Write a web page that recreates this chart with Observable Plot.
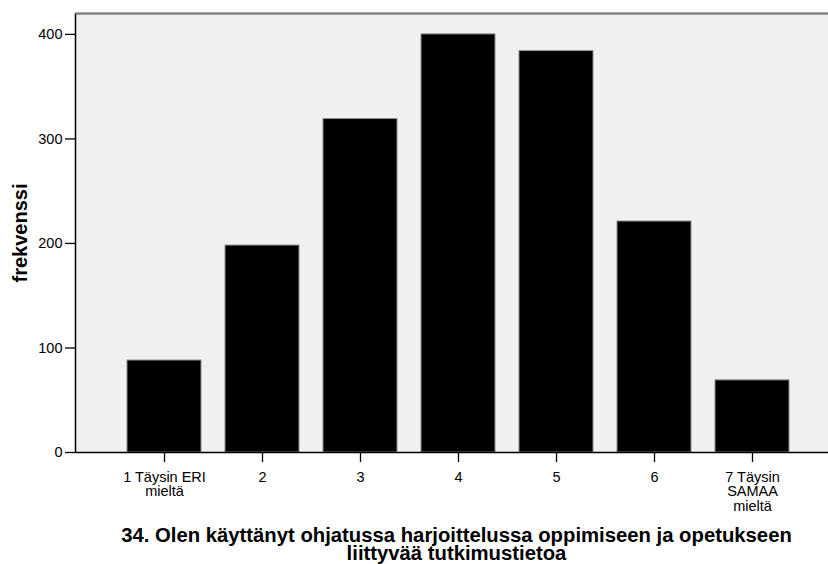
<!DOCTYPE html>
<html>
<head>
<meta charset="utf-8">
<script src="https://cdn.jsdelivr.net/npm/d3@7"></script>
<script src="https://cdn.jsdelivr.net/npm/@observablehq/plot@0.6"></script>
<style>
  html, body { margin: 0; padding: 0; background: #fff; overflow: hidden; }
  #chart svg { overflow: hidden; display: block; }
</style>
</head>
<body>
<div id="chart"></div>
<script>
const categories = ["1 Täysin ERI\nmieltä", "2", "3", "4", "5", "6", "7 Täysin\nSAMAA\nmieltä"];
const frequencies = [88, 198, 319, 400, 384, 221, 69];
const yTicks = [0, 100, 200, 300, 400];
const yMax = 420;
const yLabel = "frekvenssi";
const title = "34. Olen käyttänyt ohjatussa harjoittelussa oppimiseen ja opetukseen\nliittyvää tutkimustietoa";

const data = categories.map((c, i) => ({category: c, value: frequencies[i]}));

const chart = Plot.plot({
  width: 828,
  height: 564,
  marginTop: 13,
  marginLeft: 75,
  marginRight: -13,
  marginBottom: 112,
  style: {
    fontFamily: "'Liberation Sans', Arial, sans-serif",
    fontSize: "14.5px",
    background: "#fff",
    color: "#000"
  },
  x: {domain: categories, paddingInner: 0.24, paddingOuter: 0.5, axis: null},
  y: {domain: [0, yMax], axis: null},
  marks: [
    Plot.frame({fill: "#f0f0f0", stroke: null}),
    Plot.barY(data, {x: "category", y: "value", fill: "#000", stroke: "#8c8c8c", strokeWidth: 1}),
    Plot.frame({fill: null, stroke: "#000", strokeWidth: 1.5}),
    Plot.ruleY([yMax], {stroke: "#7a7a7a", strokeWidth: 1.5}),
    Plot.axisY({ticks: yTicks, tickSize: 10, tickPadding: 3, strokeWidth: 1.3, label: null, fontSize: 14.5}),
    Plot.axisX({tickSize: 10, tickPadding: 9, strokeWidth: 1.3, lineHeight: 1.0, label: null, fontSize: 14.5}),
    Plot.text([yLabel], {frameAnchor: "left", textAnchor: "middle", rotate: -90, dx: -54.5, fontWeight: "bold", fontSize: 20}),
    Plot.text([title], {frameAnchor: "bottom", lineAnchor: "top", dy: 76, dx: -2, fontWeight: "bold", fontSize: 20.3, lineHeight: 0.92})
  ]
});

document.getElementById("chart").appendChild(chart);
</script>
</body>
</html>
